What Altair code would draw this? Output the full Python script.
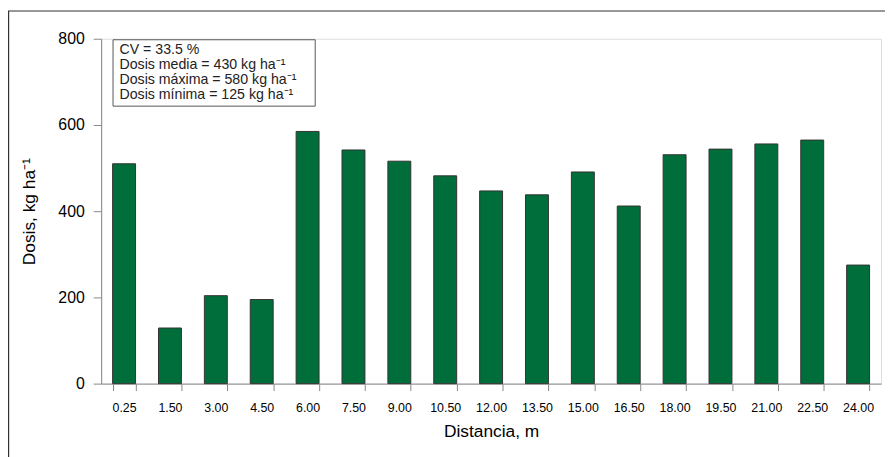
import altair as alt
import pandas as pd

distancias = ["0.25", "1.50", "3.00", "4.50", "6.00", "7.50", "9.00", "10.50", "12.00",
              "13.50", "15.00", "16.50", "18.00", "19.50", "21.00", "22.50", "24.00"]
dosis = [510, 129, 204, 195, 585, 542, 516, 482, 447, 438, 491, 412, 531, 544, 556, 565, 275]

info_lines = ["CV = 33.5 %",
              "Dosis media = 430 kg ha\u207b\u00b9",
              "Dosis máxima = 580 kg ha\u207b\u00b9",
              "Dosis mínima = 125 kg ha\u207b\u00b9"]

FONT = "Liberation Sans"
TXT = "#222222"
W, H = 787, 348

df = pd.DataFrame({"dist": distancias, "dosis": dosis})

bars = alt.Chart(df).mark_bar(
    color="#006E3A", stroke="#333333", strokeWidth=1
).encode(
    x=alt.X("dist:N", sort=distancias,
            scale=alt.Scale(paddingInner=0.5, paddingOuter=0.25),
            axis=alt.Axis(title="Distancia, m", labelAngle=0, tickBand="extent",
                          tickSize=7, labelPadding=11, labelFontSize=12.5,
                          titleFontSize=17.5, titleFontWeight="normal",
                          titleX=W / 2, titleY=53,
                          titleBaseline="alphabetic", titleAlign="center")),
    y=alt.Y("dosis:Q", scale=alt.Scale(domain=[0, 800]),
            axis=alt.Axis(title="Dosis, kg ha\u207b\u00b9", values=[0, 200, 400, 600, 800],
                          grid=False, tickSize=8, labelPadding=9, labelFontSize=16,
                          titleFontSize=17.5, titleFontWeight="normal",
                          titleAngle=-90, titleX=-72, titleY=H / 2,
                          titleBaseline="middle", titleAlign="center")),
)

# outer frame
frame = alt.Chart(pd.DataFrame({"k": [0]})).mark_rect(
    fill=None, stroke="#333333", strokeWidth=1.2
).encode(x=alt.value(-93.4), x2=alt.value(W + 20), y=alt.value(-28), y2=alt.value(H + 90))

# info box
box = alt.Chart(pd.DataFrame({"k": [0]})).mark_rect(
    fill="white", stroke="#555555", strokeWidth=1
).encode(x=alt.value(12), x2=alt.value(216), y=alt.value(1), y2=alt.value(68))

info_df = pd.DataFrame({"line": info_lines, "i": list(range(len(info_lines)))})
info = alt.Chart(info_df).transform_calculate(
    py="15.5 + 15 * datum.i"
).mark_text(
    align="left", baseline="alphabetic", font=FONT, fontSize=14.3, color=TXT
).encode(
    x=alt.value(18.5),
    y=alt.Y("py:Q", scale=alt.Scale(domain=[0, H], range=[0, H]), axis=None),
    text="line:N",
)

chart = alt.layer(frame, bars, box, info).resolve_scale(y="independent").properties(
    width=W, height=H,
    autosize=alt.AutoSizeParams(type="none"),
    padding={"left": 94, "top": 29, "right": 4, "bottom": 72},
).configure_view(stroke=None).configure_axis(
    labelFont=FONT, titleFont=FONT, labelColor=TXT, titleColor=TXT,
    domainColor="#222222", tickColor="#222222",
    domainWidth=1.5, tickWidth=1.5,
).configure(background="white")

chart.save("out.html", embed_options={"renderer": "svg", "actions": False})
